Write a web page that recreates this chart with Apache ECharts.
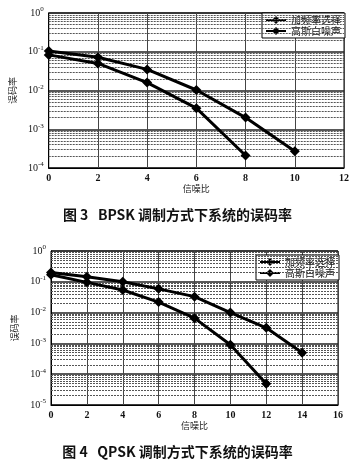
<!DOCTYPE html>
<html><head><meta charset="utf-8">
<script src="https://cdn.jsdelivr.net/npm/echarts@6/dist/echarts.min.js"></script>
<style>html,body{margin:0;padding:0;background:#fff}#c{width:355px;height:465px}</style>
</head><body><div id="c"></div>
<script>
// Figure 3 (BPSK)
var snr3 = [0, 2, 4, 6, 8, 10];
var ber3Freq = [0.105, 0.072, 0.035, 0.0103, 0.002, 0.00027];
var ber3Awgn = [0.083, 0.05, 0.016, 0.0035, 0.00021];
// Figure 4 (QPSK)
var snr4 = [0, 2, 4, 6, 8, 10, 12, 14];
var ber4Freq = [0.2, 0.147, 0.1, 0.059, 0.033, 0.01, 0.0032, 0.0005];
var ber4Awgn = [0.17, 0.096, 0.054, 0.022, 0.0066, 0.0009, 0.000049];
var legendNames = ['加频率选择', '高斯白噪声'];
var xName = '信噪比', yName = '误码率';
var caption3 = '图 3   BPSK 调制方式下系统的误码率';
var caption4 = '图 4   QPSK 调制方式下系统的误码率';

function pairs(xs, ys){ return ys.map(function(v,i){ return [xs[i], v]; }); }
function minorLines(minExp){
  var d=[];
  for(var k=minExp;k<0;k++){ for(var m=2;m<=9;m++){ d.push({yAxis: m*Math.pow(10,k)}); } }
  return d;
}
var serif = '"Liberation Serif","DejaVu Serif",serif';
var cjk = '"Noto Sans CJK SC",sans-serif';
function yLabel(v){
  var e = Math.round(Math.log10(v));
  return '{b|10}{s|' + e + '}';
}
var rich = { b:{fontSize:10, fontFamily:serif, color:'#111'}, s:{fontSize:7, fontFamily:serif, color:'#111', padding:[0,0,7,0]} };

function xAxisCfg(gi, max){
  return { type:'value', gridIndex:gi, min:0, max:max, interval:2,
    name:xName, nameLocation:'middle', nameGap:16,
    nameTextStyle:{fontFamily:cjk, fontSize:9, color:'#222'},
    axisLine:{lineStyle:{color:'#000', width:1}}, axisTick:{show:false},
    axisLabel:{fontFamily:serif, fontSize:10, fontWeight:'bold', color:'#111', margin:5},
    splitLine:{show:true, lineStyle:{color:'#444', width:1}} };
}
function yAxisCfg(gi, min){
  return { type:'log', logBase:10, gridIndex:gi, min:min, max:1,
    name:yName, nameLocation:'middle', nameRotate:90, nameGap:24,
    nameTextStyle:{fontFamily:cjk, fontSize:9, color:'#222'},
    axisLine:{lineStyle:{color:'#000', width:1}}, axisTick:{show:false},
    axisLabel:{formatter:yLabel, rich:rich, margin:5},
    splitLine:{show:true, lineStyle:{color:'#222', width:1.5}} };
}
function seriesCfg(name, xi, data, mark){
  var s = { name:name, type:'line', xAxisIndex:xi, yAxisIndex:xi, data:data,
    symbol:'diamond', symbolSize:10, showSymbol:true,
    lineStyle:{color:'#000', width:3}, itemStyle:{color:'#000'}, z:5, animation:false };
  if(mark){
    s.markLine = { silent:true, symbol:'none', animation:false, precision:8,
      label:{show:false}, emphasis:{disabled:true},
      lineStyle:{color:'#555', type:[2,1], width:1}, data:mark };
  }
  return s;
}
var capStyle = {fontFamily:cjk, fontSize:14, fontWeight:'bold', color:'#111'};
var chart = echarts.init(document.getElementById('c'), null, {renderer:'canvas'});
chart.setOption({
  backgroundColor:'#fff',
  animation:false,
  title:[
    {text:caption3, left:'center', top:203, textStyle:capStyle},
    {text:caption4, left:'center', top:440, textStyle:capStyle}
  ],
  grid:[
    {left:39, top:13, width:305, height:155, show:true, borderColor:'#000', borderWidth:1},
    {left:51, top:251, width:287, height:154, show:true, borderColor:'#000', borderWidth:1}
  ],
  legend:[
    {data:legendNames, left:262, top:13, orient:'vertical', itemGap:1, itemWidth:20, itemHeight:10,
     padding:[2,4,2,3], borderColor:'#000', borderWidth:1, backgroundColor:'#fff',
     textStyle:{fontFamily:cjk, fontSize:10, color:'#111'}, selectedMode:false},
    {data:legendNames, left:256, top:255, orient:'vertical', itemGap:1, itemWidth:20, itemHeight:10,
     padding:[2,4,2,3], borderColor:'#000', borderWidth:1, backgroundColor:'#fff',
     textStyle:{fontFamily:cjk, fontSize:10, color:'#111'}, selectedMode:false}
  ],
  xAxis:[xAxisCfg(0,12), xAxisCfg(1,16)],
  yAxis:[yAxisCfg(0,1e-4), yAxisCfg(1,1e-5)],
  series:[
    seriesCfg(legendNames[0], 0, pairs(snr3, ber3Freq), minorLines(-4)),
    seriesCfg(legendNames[1], 0, pairs(snr3, ber3Awgn)),
    seriesCfg(legendNames[0], 1, pairs(snr4, ber4Freq), minorLines(-5)),
    seriesCfg(legendNames[1], 1, pairs(snr4, ber4Awgn))
  ]
});
</script></body></html>
